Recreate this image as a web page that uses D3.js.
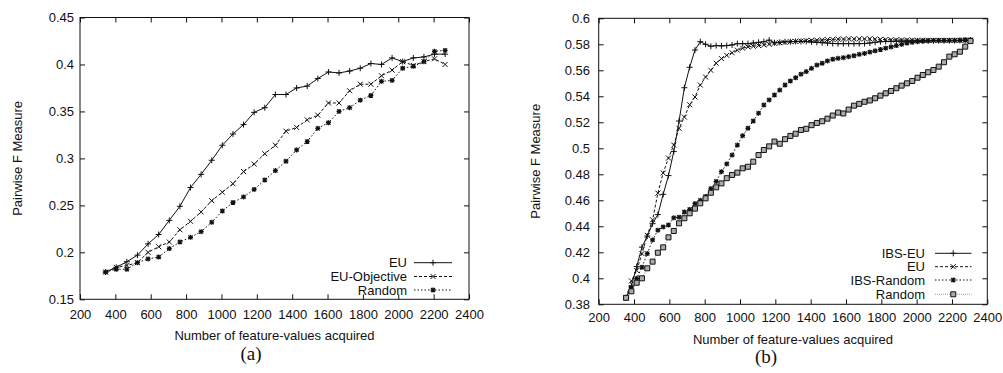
<!DOCTYPE html>
<html>
<head>
<meta charset="utf-8">
<script src="https://cdn.jsdelivr.net/npm/d3@7"></script>
<style>
  html, body { margin: 0; padding: 0; background: #fff; }
  svg text { font-family: "Liberation Sans", Arial, Helvetica, sans-serif; fill: #111; }
</style>
</head>
<body>
<svg id="chart" width="1003" height="373"></svg>
<script>
// ---- panel (a) data ----
const xA = [345, 405, 465, 525, 585, 645, 705, 765, 825, 885, 945, 1005, 1065, 1125, 1185, 1245, 1305,
  1365, 1425, 1485, 1545, 1605, 1665, 1725, 1785, 1845, 1905, 1965, 2025, 2085, 2145, 2205, 2265];
const euA = [0.179, 0.184, 0.19, 0.197, 0.209, 0.219, 0.234, 0.249, 0.269, 0.283, 0.298, 0.314, 0.326,
  0.336, 0.349, 0.354, 0.368, 0.368, 0.375, 0.377, 0.385, 0.392, 0.391, 0.393, 0.396, 0.401, 0.400,
  0.407, 0.403, 0.407, 0.408, 0.411, 0.411];
const euObjA = [0.179, 0.184, 0.186, 0.189, 0.200, 0.206, 0.211, 0.224, 0.233, 0.243, 0.255, 0.264, 0.273,
  0.286, 0.294, 0.305, 0.314, 0.329, 0.333, 0.341, 0.346, 0.359, 0.359, 0.372, 0.379, 0.379, 0.388,
  0.394, 0.403, 0.399, 0.403, 0.406, 0.400];
const randA = [0.179, 0.182, 0.182, 0.189, 0.193, 0.195, 0.204, 0.211, 0.216, 0.222, 0.232, 0.244, 0.253,
  0.259, 0.267, 0.277, 0.287, 0.297, 0.309, 0.318, 0.332, 0.338, 0.350, 0.354, 0.362, 0.367, 0.382,
  0.383, 0.396, 0.398, 0.403, 0.414, 0.415];

// ---- panel (b) data ----
const xB = [355, 385, 415, 445, 475, 505, 535, 565, 595, 625, 655, 685, 715, 745, 775, 805, 835, 865, 895,
  925, 955, 985, 1015, 1045, 1075, 1105, 1135, 1165, 1195, 1225, 1255, 1285, 1315, 1345, 1375, 1405,
  1435, 1465, 1495, 1525, 1555, 1585, 1615, 1645, 1675, 1705, 1735, 1765, 1795, 1825, 1855, 1885,
  1915, 1945, 1975, 2005, 2035, 2065, 2095, 2125, 2155, 2185, 2215, 2245, 2275, 2305];
const ibsEuB = [0.385, 0.394, 0.409, 0.424, 0.4325, 0.442, 0.449, 0.4646, 0.479, 0.4975,
  0.521, 0.5466, 0.5623, 0.5756, 0.582, 0.580, 0.5785, 0.579, 0.5788, 0.579,
  0.5795, 0.5805, 0.5805, 0.5805, 0.581, 0.5815, 0.582, 0.5832, 0.5812, 0.5815,
  0.582, 0.582, 0.5822, 0.5822, 0.5822, 0.5818, 0.5815, 0.5812, 0.581, 0.5806,
  0.5805, 0.5805, 0.5805, 0.5805, 0.5805, 0.5806, 0.581, 0.5815, 0.582, 0.5822,
  0.5822, 0.5824, 0.5824, 0.5825, 0.5825, 0.5826, 0.5826, 0.5826, 0.5827, 0.5827,
  0.5828, 0.5828, 0.5828, 0.5829, 0.5829, 0.583];
const euB = [0.385, 0.398, 0.406, 0.419, 0.433, 0.445, 0.4655, 0.481, 0.4925, 0.5025,
  0.5154, 0.524, 0.5335, 0.5395, 0.5487, 0.5548, 0.560, 0.5655, 0.569, 0.5715,
  0.5735, 0.5755, 0.577, 0.578, 0.5785, 0.579, 0.5795, 0.580, 0.5808, 0.5812,
  0.5815, 0.582, 0.5822, 0.5825, 0.5828, 0.583, 0.5832, 0.5834, 0.5836, 0.5838,
  0.584, 0.584, 0.5842, 0.5842, 0.5842, 0.5842, 0.5842, 0.584, 0.5838, 0.5836,
  0.5835, 0.5834, 0.5833, 0.5832, 0.5832, 0.5831, 0.5831, 0.583, 0.583, 0.583,
  0.583, 0.583, 0.583, 0.583, 0.583, 0.583];
const ibsRandB = [0.385, 0.393, 0.400, 0.4085, 0.419, 0.4295, 0.437, 0.4395, 0.441, 0.4465,
  0.447, 0.451, 0.453, 0.4575, 0.460, 0.463, 0.469, 0.4745, 0.482, 0.488,
  0.4948, 0.5025, 0.5097, 0.5154, 0.521, 0.527, 0.5333, 0.5372, 0.541, 0.5448,
  0.5487, 0.5518, 0.5543, 0.557, 0.559, 0.5615, 0.564, 0.5654, 0.5672, 0.5685,
  0.5692, 0.5697, 0.5705, 0.5712, 0.5723, 0.573, 0.574, 0.575, 0.576, 0.577,
  0.578, 0.579, 0.580, 0.581, 0.5815, 0.582, 0.5825, 0.5828, 0.583, 0.583,
  0.583, 0.583, 0.583, 0.5832, 0.5835, 0.5835];
const randB = [0.385, 0.390, 0.3966, 0.400, 0.4077, 0.4128, 0.4197, 0.4238, 0.4315, 0.4364,
  0.4423, 0.4462, 0.450, 0.4536, 0.4577, 0.4615, 0.4658, 0.470, 0.473, 0.477,
  0.4795, 0.4813, 0.4846, 0.4858, 0.4897, 0.4948, 0.4987, 0.5015, 0.5052, 0.5035,
  0.507, 0.5095, 0.5112, 0.5141, 0.515, 0.5178, 0.5195, 0.5208, 0.5228, 0.5252,
  0.5275, 0.5268, 0.5298, 0.5328, 0.5342, 0.5358, 0.5368, 0.5385, 0.5405, 0.5423,
  0.5441, 0.5462, 0.5482, 0.550, 0.5518, 0.5543, 0.5564, 0.5585, 0.5602, 0.5628,
  0.5662, 0.5705, 0.5723, 0.5743, 0.5782, 0.5825];

// ---- ticks and labels ----
const xTicks = [200, 400, 600, 800, 1000, 1200, 1400, 1600, 1800, 2000, 2200, 2400];
const yTicksA = [0.15, 0.2, 0.25, 0.3, 0.35, 0.4, 0.45];
const yTicksB = [0.38, 0.4, 0.42, 0.44, 0.46, 0.48, 0.5, 0.52, 0.54, 0.56, 0.58, 0.6];
const xTitle = 'Number of feature-values acquired';
const yTitle = 'Pairwise F Measure';

const markers = {
  plus: 'M-3,0H3M0,-3V3',
  cross: 'M-2.5,-2.5L2.5,2.5M-2.5,2.5L2.5,-2.5',
  star: 'M-2.5,0H2.5M0,-2.5V2.5M-2,-2L2,2M-2,2L2,-2',
  box: 'M-2.5,-2.5H2.5V2.5H-2.5Z'
};

const svg = d3.select('#chart');
const fmt = d3.format('~g');

function drawPanel(p) {
  const x = d3.scaleLinear().domain([200, 2400]).range([p.left, p.right]);
  const y = d3.scaleLinear().domain(p.yDomain).range([p.bottom, p.top]);
  const g = svg.append('g');
  const TICK = 5;

  // ticks on all four sides, pointing inward
  const bottomAxis = g.append('g').attr('transform', `translate(0,${p.bottom})`)
    .call(d3.axisBottom(x).tickValues(xTicks).tickSize(-TICK).tickPadding(p.xPad).tickFormat(fmt));
  g.append('g').attr('transform', `translate(0,${p.top})`)
    .call(d3.axisTop(x).tickValues(xTicks).tickSize(-TICK).tickFormat(''));
  const leftAxis = g.append('g').attr('transform', `translate(${p.left},0)`)
    .call(d3.axisLeft(y).tickValues(p.yTicks).tickSize(-TICK).tickPadding(p.yPad).tickFormat(fmt));
  g.append('g').attr('transform', `translate(${p.right},0)`)
    .call(d3.axisRight(y).tickValues(p.yTicks).tickSize(-TICK).tickFormat(''));
  g.selectAll('.domain').remove();
  g.selectAll('.tick line').attr('stroke', '#111').attr('stroke-width', 1);
  g.selectAll('.tick text').attr('font-size', 13).attr('fill', '#111')
    .attr('font-family', '"Liberation Sans", Arial, sans-serif');

  g.append('rect')
    .attr('x', p.left).attr('y', p.top)
    .attr('width', p.right - p.left).attr('height', p.bottom - p.top)
    .attr('fill', 'none').attr('stroke', '#111').attr('stroke-width', 1);

  // series
  const line = d3.line().x(d => x(d[0])).y(d => y(d[1]));
  p.series.forEach(s => {
    const pts = s.x.map((v, i) => [v, s.y[i]]);
    g.append('path').datum(pts)
      .attr('d', line)
      .attr('fill', 'none')
      .attr('stroke', s.color)
      .attr('stroke-width', 1)
      .attr('stroke-dasharray', s.dash);
    g.append('g').selectAll('path').data(pts).join('path')
      .attr('transform', d => `translate(${x(d[0])},${y(d[1])})`)
      .attr('d', markers[s.marker])
      .attr('fill', s.marker === 'box' ? '#aaa' : 'none')
      .attr('stroke', '#111')
      .attr('stroke-width', s.marker === 'star' ? 1.2 : 1);
  });

  // legend
  p.series.forEach((s, i) => {
    const ly = p.legend.rows[i];
    g.append('text')
      .attr('x', p.legend.textX).attr('y', ly).attr('dy', '0.35em')
      .attr('text-anchor', 'end').attr('font-size', 13)
      .text(s.name);
    g.append('line')
      .attr('x1', p.legend.x1).attr('x2', p.legend.x2)
      .attr('y1', ly).attr('y2', ly)
      .attr('stroke', s.color).attr('stroke-width', 1)
      .attr('stroke-dasharray', s.dash);
    g.append('path')
      .attr('transform', `translate(${(p.legend.x1 + p.legend.x2) / 2},${ly})`)
      .attr('d', markers[s.marker])
      .attr('fill', s.marker === 'box' ? '#aaa' : 'none')
      .attr('stroke', '#111')
      .attr('stroke-width', s.marker === 'star' ? 1.2 : 1);
  });

  // titles
  g.append('text')
    .attr('x', (p.left + p.right) / 2).attr('y', p.xTitleY)
    .attr('text-anchor', 'middle').attr('font-size', 13)
    .text(xTitle);
  g.append('text')
    .attr('transform', `translate(${p.yTitleX},${(p.top + p.bottom) / 2}) rotate(-90)`)
    .attr('text-anchor', 'middle').attr('font-size', 13)
    .text(yTitle);
  g.append('text')
    .attr('x', p.captionX).attr('y', p.captionY)
    .attr('text-anchor', 'middle').attr('font-size', 19)
    .style('font-family', '"Liberation Serif", "Times New Roman", serif')
    .text(p.caption);
}

drawPanel({
  left: 80, right: 469, top: 17.5, bottom: 299.3,
  yDomain: [0.15, 0.45], yTicks: yTicksA, xPad: 10.5, yPad: 6,
  series: [
    { name: 'EU', x: xA, y: euA, dash: null, marker: 'plus', color: '#111' },
    { name: 'EU-Objective', x: xA, y: euObjA, dash: '3,2', marker: 'cross', color: '#111' },
    { name: 'Random', x: xA, y: randA, dash: '1.5,2', marker: 'star', color: '#111' }
  ],
  legend: { textX: 407, x1: 414, x2: 452, rows: [262.7, 276.5, 290] },
  xTitleY: 340, yTitleX: 21.5, caption: '(a)', captionX: 251, captionY: 359.5
});

drawPanel({
  left: 598.7, right: 987.3, top: 18.3, bottom: 304.3,
  yDomain: [0.38, 0.6], yTicks: yTicksB, xPad: 8.8, yPad: 8.7,
  series: [
    { name: 'IBS-EU', x: xB, y: ibsEuB, dash: null, marker: 'plus', color: '#111' },
    { name: 'EU', x: xB, y: euB, dash: '3,2', marker: 'cross', color: '#111' },
    { name: 'IBS-Random', x: xB, y: ibsRandB, dash: '1.5,2', marker: 'star', color: '#111' },
    { name: 'Random', x: xB, y: randB, dash: '1,1', marker: 'box', color: '#999' }
  ],
  legend: { textX: 925, x1: 935, x2: 971.5, rows: [253.3, 266.7, 280, 294.3] },
  xTitleY: 343.6, yTitleX: 540, caption: '(b)', captionX: 766, captionY: 363
});
</script>
</body>
</html>
